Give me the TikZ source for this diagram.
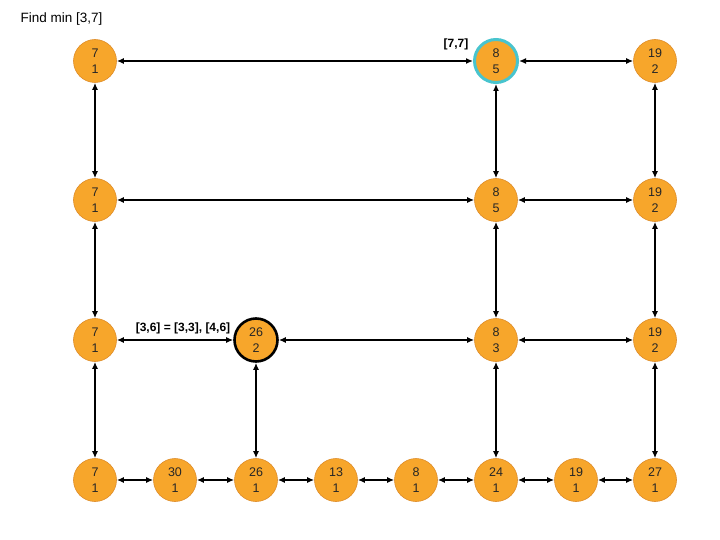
\documentclass[tikz,border=0pt]{standalone}
\usepackage{fontspec}
\setmainfont{Liberation Sans}
\usetikzlibrary{arrows.meta}
\definecolor{nodefill}{RGB}{247,166,43}
\definecolor{nodeline}{RGB}{222,140,40}
\definecolor{hicyan}{RGB}{72,196,206}
\tikzset{
  nd/.style={circle,fill=nodefill,draw=nodeline,line width=0.6pt,minimum size=43pt,inner sep=0pt,
    align=center,font=\fontsize{12.5}{15.5}\selectfont,text=black!85},
  hi/.style={draw=hicyan,line width=3pt},
  blk/.style={draw=black,line width=2.6pt},
  lnk/.style={line width=1.9pt,{Latex[length=7pt,width=6pt]}-{Latex[length=7pt,width=6pt]}},
  lbl/.style={font=\fontsize{12}{14}\selectfont\bfseries}
}
\begin{document}
\begin{tikzpicture}[x=1pt,y=-1pt]
\useasboundingbox (0,0) rectangle (720,540);
\node[anchor=west,font=\fontsize{13.5}{16}\selectfont] (title) at (17,19) {Find min [3,7]};
% row 1
\node[nd] (a1) at (95,61) {7\\1};
\node[nd,hi] (f1) at (496,61) {8\\5};
\node[nd] (h1) at (655,61) {19\\2};
% row 2
\node[nd] (a2) at (95,200) {7\\1};
\node[nd] (f2) at (496,200) {8\\5};
\node[nd] (h2) at (655,200) {19\\2};
% row 3
\node[nd] (a3) at (95,340) {7\\1};
\node[nd,blk] (c3) at (256,340) {26\\2};
\node[nd] (f3) at (496,340) {8\\3};
\node[nd] (h3) at (655,340) {19\\2};
% row 4
\node[nd] (a4) at (95,480) {7\\1};
\node[nd] (b4) at (175,480) {30\\1};
\node[nd] (c4) at (256,480) {26\\1};
\node[nd] (d4) at (336,480) {13\\1};
\node[nd] (e4) at (416,480) {8\\1};
\node[nd] (f4) at (496,480) {24\\1};
\node[nd] (g4) at (576,480) {19\\1};
\node[nd] (h4) at (655,480) {27\\1};
% labels
\node[lbl] (l77) at (456,44) {[7,7]};
\node[lbl] (l36) at (183,328) {[3,6] = [3,3], [4,6]};
% horizontal links
\draw[lnk] (a1) -- (f1);
\draw[lnk] (f1) -- (h1);
\draw[lnk] (a2) -- (f2);
\draw[lnk] (f2) -- (h2);
\draw[lnk] (a3) -- (c3);
\draw[lnk] (c3) -- (f3);
\draw[lnk] (f3) -- (h3);
\draw[lnk] (a4) -- (b4);
\draw[lnk] (b4) -- (c4);
\draw[lnk] (c4) -- (d4);
\draw[lnk] (d4) -- (e4);
\draw[lnk] (e4) -- (f4);
\draw[lnk] (f4) -- (g4);
\draw[lnk] (g4) -- (h4);
% vertical links
\draw[lnk] (a1) -- (a2);
\draw[lnk] (a2) -- (a3);
\draw[lnk] (a3) -- (a4);
\draw[lnk] (f1) -- (f2);
\draw[lnk] (f2) -- (f3);
\draw[lnk] (f3) -- (f4);
\draw[lnk] (h1) -- (h2);
\draw[lnk] (h2) -- (h3);
\draw[lnk] (h3) -- (h4);
\draw[lnk] (c3) -- (c4);
\end{tikzpicture}
\end{document}
